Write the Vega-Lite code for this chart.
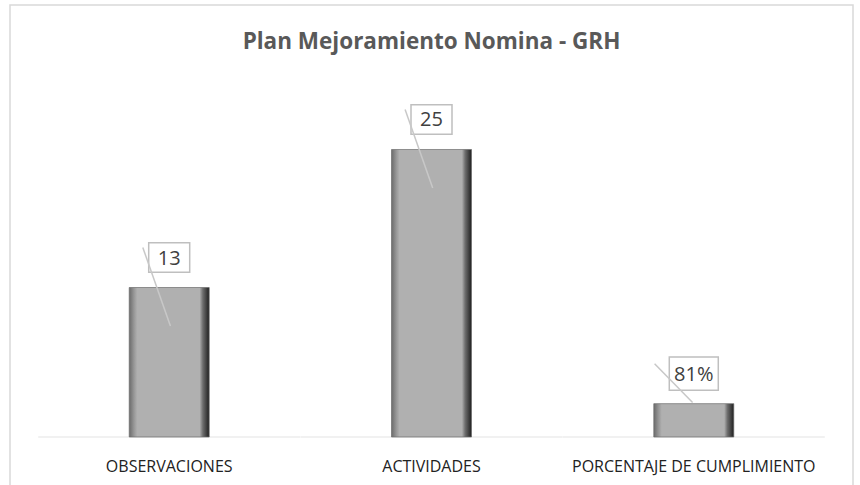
{
  "$schema": "https://vega.github.io/schema/vega-lite/v6.json",
  "width": 843,
  "height": 490,
  "autosize": {"type": "none"},
  "padding": {"left": 10, "top": 5, "right": 7, "bottom": 0},
  "background": "white",
  "config": {
    "view": {"stroke": "#d9d9d9", "strokeWidth": 1.5},
    "font": "Open Sans"
  },
  "title": {
    "text": "Plan Mejoramiento Nomina - GRH",
    "fontSize": 22.5,
    "fontWeight": "bold",
    "color": "#595959",
    "anchor": "middle",
    "frame": "group",
    "orient": "top",
    "offset": 0,
    "baseline": "alphabetic",
    "dy": 66
  },
  "data": {
    "values": [
      {"categoria": "OBSERVACIONES", "valor": 13, "etiqueta": "13"},
      {"categoria": "ACTIVIDADES", "valor": 25, "etiqueta": "25"},
      {"categoria": "PORCENTAJE DE CUMPLIMIENTO", "valor": 2.9, "etiqueta": "81%"}
    ]
  },
  "encoding": {
    "x": {
      "field": "categoria",
      "type": "nominal",
      "sort": null,
      "scale": {"paddingInner": 0, "paddingOuter": 0.107},
      "axis": {
        "title": null,
        "orient": "bottom",
        "offset": -58,
        "domain": false,
        "ticks": false,
        "grid": false,
        "labelAngle": 0,
        "labelFontSize": 16,
        "labelLimit": 0,
        "labelColor": "#222222",
        "labelBaseline": "alphabetic",
        "labelPadding": 34,
        "labelFont": "Open Sans"
      }
    }
  },
  "layer": [
    {
      "mark": {"type": "tick", "orient": "horizontal", "size": 262, "thickness": 1.2, "color": "#d9d9d9"},
      "encoding": {
        "y": {"datum": 0, "type": "quantitative", "scale": {"domain": [-5.043, 37.565], "nice": false, "zero": false}, "axis": null}
      }
    },
    {
      "mark": {
        "type": "bar",
        "width": 80,
        "stroke": "#6b6b6b",
        "strokeWidth": 0.7,
        "color": {
          "gradient": "linear",
          "x1": 0, "x2": 1, "y1": 0, "y2": 0,
          "stops": [
            {"offset": 0, "color": "#6b6b6b"},
            {"offset": 0.06, "color": "#979797"},
            {"offset": 0.1, "color": "#b0b0b0"},
            {"offset": 0.88, "color": "#b0b0b0"},
            {"offset": 0.92, "color": "#6e6e6e"},
            {"offset": 1, "color": "#1f1f1f"}
          ]
        }
      },
      "encoding": {
        "y": {"field": "valor", "type": "quantitative", "scale": {"domain": [-5.043, 37.565], "nice": false, "zero": false}, "axis": null}
      }
    },
    {
      "mark": {"type": "point", "filled": true, "fill": "white", "stroke": "#bfbfbf", "strokeWidth": 1.5, "opacity": 1, "yOffset": -30},
      "encoding": {
        "y": {"field": "valor", "type": "quantitative"},
        "shape": {"condition": {"test": "datum.valor < 5", "value": "M-1,-0.68H1V0.68H-1Z"}, "value": "M-1,-0.72H1V0.72H-1Z"},
        "size": {"condition": {"test": "datum.valor < 5", "value": 2401}, "value": 1681}
      }
    },
    {
      "mark": {"type": "point", "filled": false, "stroke": "#c8c8c8", "strokeWidth": 1.5, "opacity": 1, "size": 6400},
      "encoding": {
        "y": {"field": "valor", "type": "quantitative"},
        "shape": {"condition": {"test": "datum.valor < 5", "value": "M-0.98,-1L-0.03,-0.03"}, "value": "M-0.66,-1L0.03,0.96"}
      }
    },
    {
      "mark": {"type": "text", "fontSize": 20, "color": "#404040", "baseline": "middle", "align": "center", "yOffset": -29, "font": "Open Sans"},
      "encoding": {
        "y": {"field": "valor", "type": "quantitative"},
        "text": {"field": "etiqueta"}
      }
    }
  ]
}
